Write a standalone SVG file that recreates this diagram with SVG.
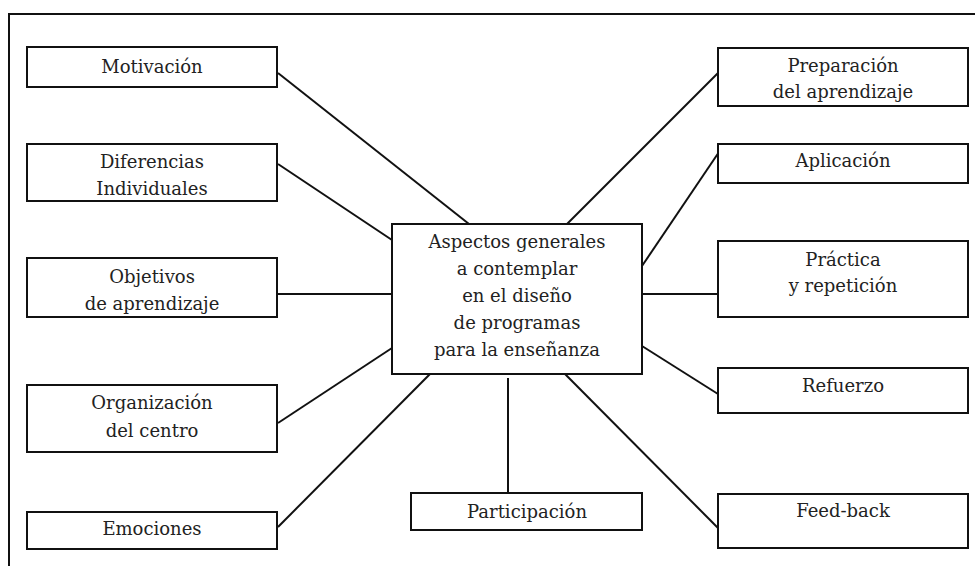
<svg xmlns="http://www.w3.org/2000/svg" width="975" height="566" viewBox="0 0 975 566">
  <style>
    .box { fill: #fff; stroke: #111; stroke-width: 2; }
    .lbl { font-family: 'DejaVu Serif', serif; font-size: 18px; fill: #222; text-anchor: middle; }
    .link { stroke: #111; stroke-width: 2; fill: none; }
    .frame { stroke: #111; stroke-width: 2; fill: none; }
  </style>
  <rect width="975" height="566" fill="#fff"/>
  <!-- outer frame (left and top edges) -->
  <path class="frame" d="M9,570 V14 H980"/>

  <!-- connectors -->
  <g id="connectors">
    <line class="link" x1="278" y1="73" x2="469" y2="224" stroke-width="1.6"/>
    <line class="link" x1="278" y1="164" x2="392" y2="240"/>
    <line class="link" x1="278" y1="294" x2="392" y2="294"/>
    <line class="link" x1="278" y1="423" x2="392" y2="348"/>
    <line class="link" x1="278" y1="527" x2="430" y2="374"/>
    <line class="link" x1="508" y1="378" x2="508" y2="493"/>
    <line class="link" x1="565" y1="374" x2="718" y2="528"/>
    <line class="link" x1="642" y1="346" x2="718" y2="394"/>
    <line class="link" x1="642" y1="294" x2="718" y2="294"/>
    <line class="link" x1="642" y1="266" x2="719" y2="152"/>
    <line class="link" x1="567" y1="224" x2="719" y2="72" stroke-width="1.6"/>
  </g>

  <g id="center">
    <rect class="box" x="392" y="224" width="250" height="150"/>
    <text class="lbl" x="517" y="248">Aspectos generales</text>
    <text class="lbl" x="517" y="275">a contemplar</text>
    <text class="lbl" x="517" y="302">en el diseño</text>
    <text class="lbl" x="517" y="329">de programas</text>
    <text class="lbl" x="517" y="356">para la enseñanza</text>
  </g>

  <g id="motivacion">
    <rect class="box" x="27" y="47" width="250" height="40"/>
    <text class="lbl" x="152" y="73">Motivación</text>
  </g>
  <g id="diferencias">
    <rect class="box" x="27" y="144" width="250" height="57"/>
    <text class="lbl" x="152" y="168">Diferencias</text>
    <text class="lbl" x="152" y="195">Individuales</text>
  </g>
  <g id="objetivos">
    <rect class="box" x="27" y="258" width="250" height="59"/>
    <text class="lbl" x="152" y="283">Objetivos</text>
    <text class="lbl" x="152" y="310">de aprendizaje</text>
  </g>
  <g id="organizacion">
    <rect class="box" x="27" y="385" width="250" height="67"/>
    <text class="lbl" x="152" y="409">Organización</text>
    <text class="lbl" x="152" y="437">del centro</text>
  </g>
  <g id="emociones">
    <rect class="box" x="27" y="512" width="250" height="37"/>
    <text class="lbl" x="152" y="535">Emociones</text>
  </g>

  <g id="participacion">
    <rect class="box" x="411" y="493" width="231" height="37"/>
    <text class="lbl" x="527" y="518">Participación</text>
  </g>

  <g id="preparacion">
    <rect class="box" x="718" y="48" width="250" height="58"/>
    <text class="lbl" x="843" y="72">Preparación</text>
    <text class="lbl" x="843" y="98">del aprendizaje</text>
  </g>
  <g id="aplicacion">
    <rect class="box" x="718" y="144" width="250" height="39"/>
    <text class="lbl" x="843" y="167">Aplicación</text>
  </g>
  <g id="practica">
    <rect class="box" x="718" y="241" width="250" height="76"/>
    <text class="lbl" x="843" y="266">Práctica</text>
    <text class="lbl" x="843" y="292">y repetición</text>
  </g>
  <g id="refuerzo">
    <rect class="box" x="718" y="368" width="250" height="45"/>
    <text class="lbl" x="843" y="392">Refuerzo</text>
  </g>
  <g id="feedback">
    <rect class="box" x="718" y="494" width="250" height="54"/>
    <text class="lbl" x="843" y="517">Feed-back</text>
  </g>
</svg>
